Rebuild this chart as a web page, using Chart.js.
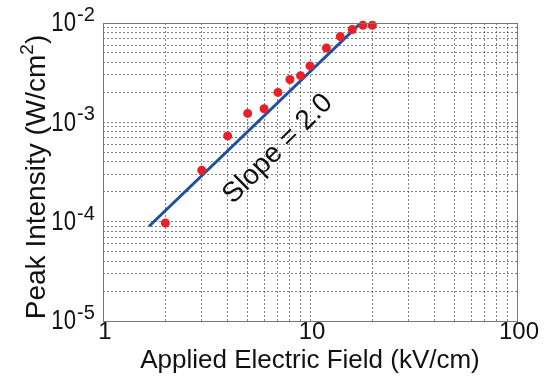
<!DOCTYPE html>
<html>
<head>
<meta charset="utf-8">
<script src="https://cdn.jsdelivr.net/npm/chart.js@4.4.0/dist/chart.umd.min.js"></script>
<style>
  html, body { margin: 0; padding: 0; background: #fff; }
</style>
</head>
<body>
<canvas id="fieldChart" width="560" height="376"></canvas>
<script>
const fieldKV = [2, 3, 4, 5, 6, 7, 8, 9, 10, 12, 14, 16, 18, 20];
const peakIntensity = [9.7e-5, 3.3e-4, 7.3e-4, 1.23e-3, 1.37e-3, 2.0e-3, 2.7e-3, 2.95e-3, 3.7e-3, 5.6e-3, 7.3e-3, 8.6e-3, 9.5e-3, 9.5e-3];

// Recta de ajuste (pendiente 2)
const fitField = [1.67, 17.5];
const fitIntensity = [9.0e-5, 9.9e-3];

// Etiquetas de los ejes
const xTickValues = [1, 10, 100];
const xTickLabels = ['1', '10', '100'];
const yTickExponents = [-5, -4, -3, -2];
const slopeLabel = 'Slope = 2.0';

const FONT = '"Liberation Sans", Arial, Helvetica, sans-serif';

// Líneas de la rejilla logarítmica (1..9 por década)
function logGrid(minExp, maxExp) {
    const vals = [];
    for (let e = minExp; e < maxExp; e++) {
        for (let m = 1; m < 10; m++) vals.push(m * Math.pow(10, e));
    }
    vals.push(Math.pow(10, maxExp));
    return vals;
}

const gridOpts = { color: 'rgba(60,60,60,0.65)', lineWidth: 1, drawTicks: false };
const borderOpts = { display: false, dash: [2, 2] };

// Texto de ejes, marco y anotación
const labelsPlugin = {
    id: 'labels',
    afterDraw(chart) {
        const { ctx, chartArea: a, scales: { x, y } } = chart;
        ctx.save();
        ctx.setLineDash([]);
        ctx.strokeStyle = '#777';
        ctx.lineWidth = 1;
        ctx.strokeRect(a.left + 0.5, a.top + 0.5, a.right - a.left, a.bottom - a.top);

        ctx.fillStyle = '#111';
        // Ticks del eje X
        ctx.font = '24px ' + FONT;
        ctx.textAlign = 'center';
        ctx.textBaseline = 'top';
        xTickValues.forEach((v, i) => {
            ctx.fillText(xTickLabels[i], x.getPixelForValue(v) + 2, a.bottom - 1);
        });

        // Ticks del eje Y (10^n)
        yTickExponents.forEach(e => {
            const py = y.getPixelForValue(Math.pow(10, e));
            ctx.save();
            ctx.translate(76, py + 1);
            ctx.scale(0.82, 1);
            ctx.font = '27px ' + FONT;
            ctx.textAlign = 'right';
            ctx.textBaseline = 'middle';
            ctx.fillText('10', 0, 0);
            ctx.restore();
            ctx.font = '20px ' + FONT;
            ctx.textAlign = 'left';
            ctx.textBaseline = 'alphabetic';
            ctx.fillText(String(e), 77, py - 2);
        });

        // Título eje X
        ctx.font = '26px ' + FONT;
        ctx.textAlign = 'center';
        ctx.textBaseline = 'alphabetic';
        ctx.fillText('Applied Electric Field (kV/cm)', 310, 368);

        // Título eje Y con superíndice
        ctx.save();
        ctx.translate(45, 177);
        ctx.rotate(-Math.PI / 2);
        const main = 'Peak Intensity (W/cm';
        ctx.font = '28px ' + FONT;
        const w1 = ctx.measureText(main).width;
        const w3 = ctx.measureText(')').width;
        ctx.font = '19px ' + FONT;
        const w2 = ctx.measureText('2').width;
        const sx = -(w1 + w2 + w3) / 2;
        ctx.textAlign = 'left';
        ctx.font = '28px ' + FONT;
        ctx.fillText(main, sx, 0);
        ctx.font = '19px ' + FONT;
        ctx.fillText('2', sx + w1, -12);
        ctx.font = '28px ' + FONT;
        ctx.fillText(')', sx + w1 + w2, 0);
        ctx.restore();

        // Anotación de la pendiente
        ctx.save();
        ctx.translate(278, 149);
        ctx.rotate(-45 * Math.PI / 180);
        ctx.font = '28px ' + FONT;
        ctx.textAlign = 'center';
        ctx.textBaseline = 'middle';
        ctx.fillText(slopeLabel, 0, 0);
        ctx.restore();

        ctx.restore();
    }
};

const ctx = document.getElementById('fieldChart').getContext('2d');
const fieldChart = new Chart(ctx, {
    type: 'scatter',
    data: {
        datasets: [{
            label: 'Medidas',
            data: fieldKV.map((v, i) => ({ x: v, y: peakIntensity[i] })),
            pointStyle: 'circle',
            pointRadius: 4.5,
            backgroundColor: '#e8202a',
            borderColor: '#e8202a',
            borderWidth: 0,
            clip: 8
        }, {
            label: 'Ajuste',
            data: fitField.map((v, i) => ({ x: v, y: fitIntensity[i] })),
            showLine: true,
            pointRadius: 0,
            borderColor: '#1f4f9f',
            borderWidth: 3,
            fill: false
        }]
    },
    options: {
        responsive: false,
        animation: false,
        layout: { padding: { top: 23, right: 43, left: 0, bottom: 0 } },
        plugins: {
            legend: { display: false },
            tooltip: { enabled: false }
        },
        scales: {
            x: {
                type: 'logarithmic',
                min: 1,
                max: 100,
                afterBuildTicks: s => { s.ticks = logGrid(0, 2).map(v => ({ value: v })); },
                afterFit: s => { s.height = 55; },
                ticks: { display: false },
                grid: gridOpts,
                border: borderOpts
            },
            y: {
                type: 'logarithmic',
                min: 1e-5,
                max: 1e-2,
                afterBuildTicks: s => { s.ticks = logGrid(-5, -2).map(v => ({ value: v })); },
                afterFit: s => { s.width = 103; },
                ticks: { display: false },
                grid: gridOpts,
                border: borderOpts
            }
        }
    },
    plugins: [labelsPlugin]
});
</script>
</body>
</html>
